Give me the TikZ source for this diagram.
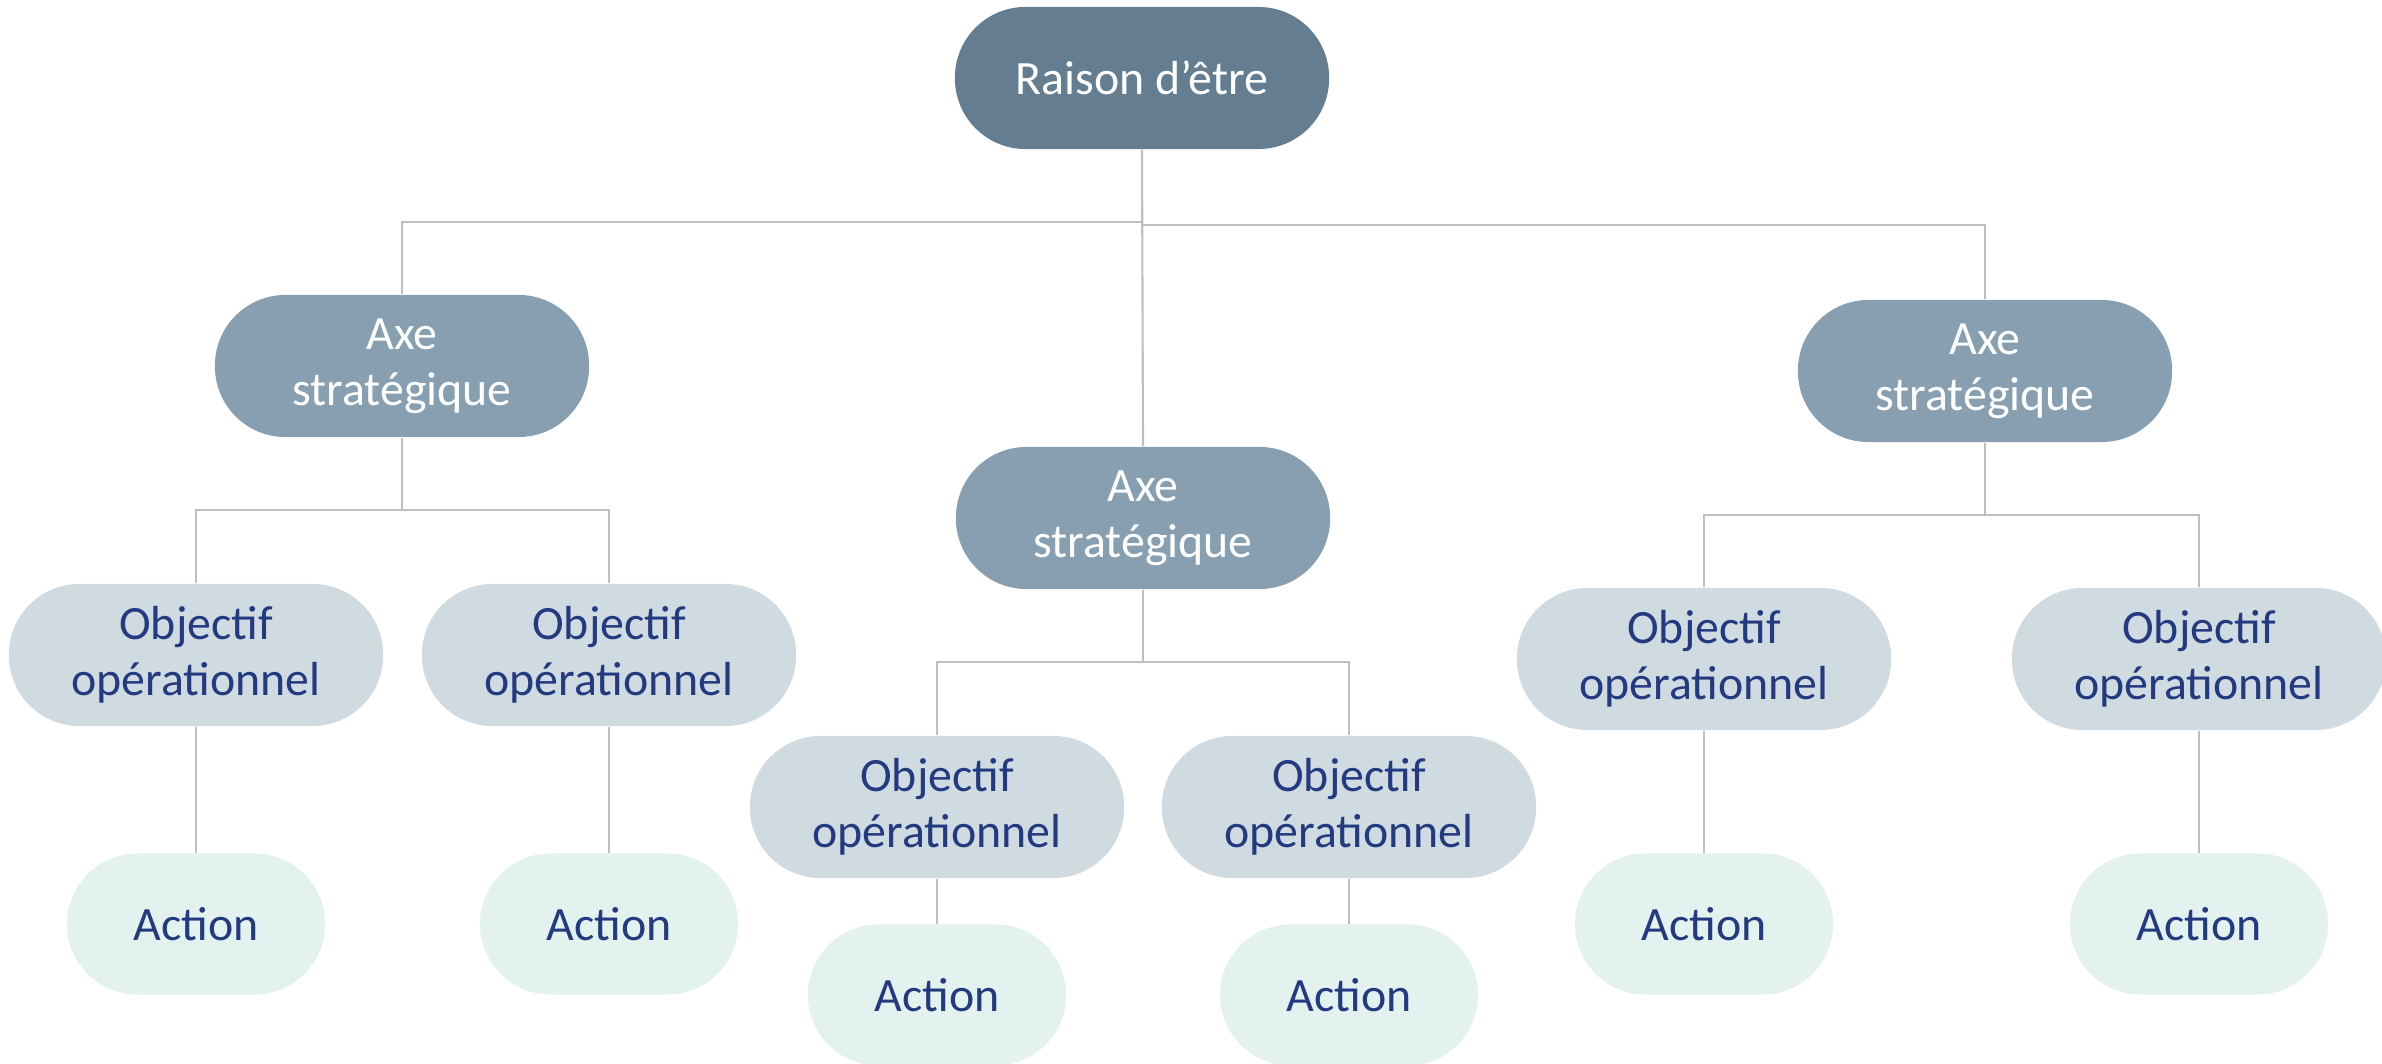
\documentclass[tikz,border=0pt]{standalone}
\usepackage{fontspec}
\setmainfont{Carlito}
\definecolor{rdefill}{HTML}{657D90}
\definecolor{axefill}{HTML}{879FB0}
\definecolor{objfill}{HTML}{CFDAE1}
\definecolor{actfill}{HTML}{E3F1EF}
\definecolor{inkblue}{HTML}{233A80}
\definecolor{wire}{HTML}{BFBFBF}
\begin{document}
\begin{tikzpicture}[x=0.01cm,y=-0.01cm,
  pill/.style={rectangle,rounded corners=0.705cm,inner sep=0pt,align=center,
    minimum width=3.74cm,minimum height=1.42cm,
    font=\fontsize{13.6}{15.8}\selectfont},
  rdebox/.style={pill,fill=rdefill,text=white},
  axebox/.style={pill,fill=axefill,text=white},
  objbox/.style={pill,fill=objfill,text=inkblue},
  actbox/.style={pill,fill=actfill,text=inkblue,minimum width=2.58cm,minimum height=1.41cm},
  link/.style={draw=wire,line width=0.6pt}]
\useasboundingbox (0,0) rectangle (2382,1064);
% niveaux
\node[rdebox] (rde) at (1142,78) {Raison d’être};
\node[axebox] (ax1) at (402,366) {Axe\\stratégique};
\node[axebox] (ax2) at (1143,518) {Axe\\stratégique};
\node[axebox] (ax3) at (1985,371) {Axe\\stratégique};
\node[objbox] (ob1) at (196,655) {Objectif\\opérationnel};
\node[objbox] (ob2) at (609,655) {Objectif\\opérationnel};
\node[objbox] (ob3) at (937,807) {Objectif\\opérationnel};
\node[objbox] (ob4) at (1349,807) {Objectif\\opérationnel};
\node[objbox] (ob5) at (1704,659) {Objectif\\opérationnel};
\node[objbox] (ob6) at (2199,659) {Objectif\\opérationnel};
\node[actbox] (ac1) at (196,924) {Action};
\node[actbox] (ac2) at (609,924) {Action};
\node[actbox] (ac3) at (937,995) {Action};
\node[actbox] (ac4) at (1349,995) {Action};
\node[actbox] (ac5) at (1704,924) {Action};
\node[actbox] (ac6) at (2199,924) {Action};
% hauteurs des barres
\coordinate (barA) at (0,222);
\coordinate (barB) at (0,225);
\coordinate (bar1) at (0,510);
\coordinate (bar2) at (0,662);
\coordinate (bar3) at (0,515);
% liaisons
\draw[link] (rde.south) -- (rde.south |- barA) -| (ax1.north);
\draw[link] (rde.south |- barA) -- (rde.south |- barB) -| (ax3.north);
\draw[link] (rde.south) -- (ax2.north);
\draw[link] (ax1.south) -- (ax1.south |- bar1);
\draw[link] (ob1.north) |- (ax1.south |- bar1) -| (ob2.north);
\draw[link] (ax2.south) -- (ax2.south |- bar2);
\draw[link] (ob3.north) |- (ax2.south |- bar2) -| (ob4.north);
\draw[link] (ax3.south) -- (ax3.south |- bar3);
\draw[link] (ob5.north) |- (ax3.south |- bar3) -| (ob6.north);
\foreach \i in {1,...,6}
  \draw[link] (ob\i.south) -- (ac\i.north);
\end{tikzpicture}
\end{document}
